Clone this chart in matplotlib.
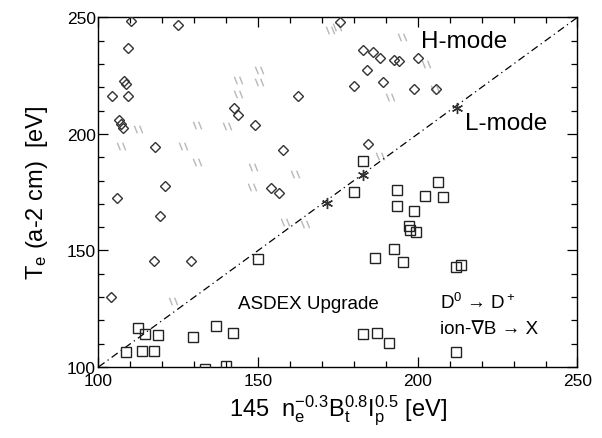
import matplotlib
matplotlib.use("Agg")
import matplotlib.pyplot as plt
from matplotlib.path import Path
from matplotlib.ticker import MultipleLocator

plt.rcParams['font.family'] = ['Liberation Sans', 'DejaVu Sans']
plt.rcParams['mathtext.fontset'] = 'custom'
plt.rcParams['mathtext.rm'] = 'Liberation Sans'
plt.rcParams['mathtext.it'] = 'Liberation Sans'

# ── data ────────────────────────────────────────────
# L-mode points (squares)
l_x = [150.0, 112.5, 114.6, 118.7, 129.7, 136.7, 142.2, 108.6, 113.7, 117.5,
       133.4, 139.9, 182.9, 180.0, 193.6, 202.3, 208.0, 206.2, 193.4, 198.8,
       197.3, 197.6, 199.4, 192.5, 186.6, 195.5, 211.8, 213.4, 182.8, 187.1,
       191.1, 212.1]
l_y = [146.3, 116.6, 114.1, 113.7, 112.7, 117.7, 114.6, 106.5, 106.7, 106.7,
       99.1, 100.5, 188.5, 175.2, 175.9, 173.5, 172.8, 179.2, 168.9, 167.0,
       160.3, 158.9, 157.8, 150.6, 146.7, 144.9, 142.7, 143.7, 114.1, 114.6,
       110.3, 106.5]

# H-mode points (diamonds)
h_x = [110.1, 124.8, 109.3, 108.0, 108.5, 104.1, 109.3, 162.6, 143.8, 142.4,
       106.5, 107.0, 107.8, 149.0, 117.7, 157.7, 120.8, 154.0, 156.5, 105.9,
       119.3, 117.5, 129.0, 103.8, 182.9, 186.1, 188.2, 192.6, 194.2, 200.0,
       184.0, 189.2, 180.0, 198.8, 205.7, 184.5, 175.6]
h_y = [248.5, 246.7, 236.7, 222.5, 221.5, 216.4, 216.4, 216.4, 208.1, 211.1,
       206.1, 204.2, 202.4, 203.8, 194.2, 193.2, 177.8, 176.8, 174.6, 172.4,
       164.6, 145.6, 145.6, 129.9, 236.1, 235.0, 232.4, 231.8, 231.4, 232.4,
       227.5, 222.4, 220.4, 219.2, 219.2, 195.6, 248.0]

# faint H-mode points (only partly visible in the scan)
f_x = [150.3, 150.2, 143.7, 140.3, 130.7, 126.4, 130.8, 148.4, 148.0, 161.5,
       107.0, 172.5, 174.6, 194.9, 202.7, 191.2, 205.4, 188.2, 112.5, 123.3,
       143.6, 164.7, 158.5]
f_y = [227.5, 222.1, 217.0, 203.4, 203.9, 195.0, 188.1, 185.8, 177.2, 182.9,
       195.0, 244.7, 245.7, 241.4, 230.0, 215.7, 219.2, 190.3, 202.3, 128.2,
       223.0, 161.4, 162.1]

# crossing points on the separatrix (asterisks)
s_x = [171.7, 182.7, 212.2]
s_y = [170.3, 182.3, 211.0]

line_x = [100, 250]
line_y = [100, 250]

# ── figure ──────────────────────────────────────────
fig = plt.figure(figsize=(6.02, 4.39), dpi=100)
ax = fig.add_axes([0.1636, 0.1617, 0.7957, 0.7966])

slash = Path([(-0.55, 0.5), (-0.15, -0.5), (0.15, 0.5), (0.55, -0.5)],
             [Path.MOVETO, Path.LINETO, Path.MOVETO, Path.LINETO])

ax.plot(line_x, line_y, color='black', lw=0.9, ls=(0, (6, 3, 1, 3)), zorder=2)

ax.plot(f_x, f_y, ls='none', marker=slash, ms=6, mec='#b8b8b8', mew=1.0, zorder=1)
ax.plot(h_x, h_y, ls='none', marker='D', ms=5.5, mfc='none', mec='#333333', mew=1.0, zorder=3)
ax.plot(l_x, l_y, ls='none', marker='s', ms=7.2, mfc='none', mec='#222222', mew=1.0,
        zorder=3, clip_on=True)
ax.plot(s_x, s_y, ls='none', marker=(6, 2, 0), ms=8, mec='#333333', mew=1.0, zorder=4)

ax.set_xlim(100, 250)
ax.set_ylim(100, 250)
ax.xaxis.set_major_locator(MultipleLocator(50))
ax.yaxis.set_major_locator(MultipleLocator(50))
ax.xaxis.set_minor_locator(MultipleLocator(10))
ax.yaxis.set_minor_locator(MultipleLocator(10))
ax.tick_params(which='both', direction='in', top=True, right=True, width=0.9,
               labelsize=12.5, colors='black', pad=2)
ax.tick_params(axis='x', which='both', pad=4)
ax.tick_params(which='major', length=7)
ax.tick_params(which='minor', length=4)
for sp in ax.spines.values():
    sp.set_linewidth(1.0)

ax.text(200.9, 239.8, 'H-mode', fontsize=17.5, va='center', ha='left')
ax.text(214.9, 204.8, 'L-mode', fontsize=17.5, va='center', ha='left')
ax.text(143.8, 125.5, 'ASDEX Upgrade', fontsize=13.5, va='baseline', ha='left')
ax.text(206.9, 125.5, r'D$^0$ → D$^+$', fontsize=13.5, va='baseline', ha='left')
ax.text(206.9, 114.4, 'ion-∇B → X', fontsize=13.5, va='baseline', ha='left')

ax.set_xlabel(r'145  n$_e^{-0.3}$B$_t^{0.8}$I$_p^{0.5}$ [eV]', fontsize=17, labelpad=4)
ax.set_ylabel(r'T$_e$ (a-2 cm)  [eV]', fontsize=17, labelpad=12)

fig.savefig('out.png', dpi=100)
